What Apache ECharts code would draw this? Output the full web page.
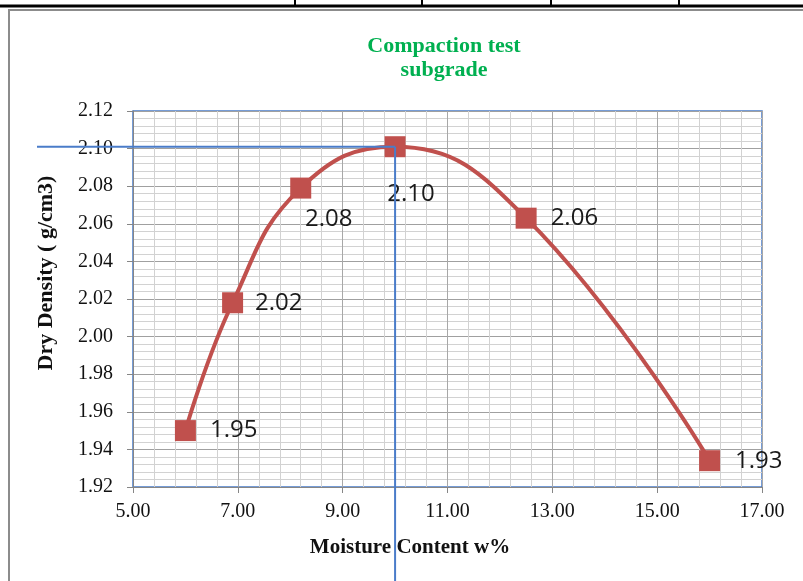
<!DOCTYPE html>
<html><head><meta charset="utf-8">
<script src="https://cdn.jsdelivr.net/npm/echarts@6/dist/echarts.min.js"></script>
<style>html,body{margin:0;padding:0;background:#fff}#c{width:803px;height:581px}</style>
</head><body><div id="c"></div>
<script>
// ---- data ----
const moisture = [6.0, 6.9, 8.2, 10.0, 12.5, 16.0];
const dryDensity = [1.95, 2.018, 2.079, 2.101, 2.063, 1.934];
const titleText = "Compaction test\nsubgrade";
const xName = "Moisture Content w%";
const yName = "Dry Density ( g/cm3)";
const optimumIndex = 3;

// ---- label placement (styling only) ----
const labelStyles = [
  {position: 'right', distance: 14},
  {position: 'right', distance: 12},
  {position: 'inside', offset: [28, 31]},
  {position: 'inside', offset: [16, 47]},
  {position: 'right', distance: 14},
  {position: 'right', distance: 15}
];

const red = '#C0504D';
const blue = '#4A7CC9';
const serif = '"Liberation Serif","Times New Roman",serif';

const chart = echarts.init(document.getElementById('c'), null, {renderer: 'canvas'});
const pts = moisture.map((x, i) => ({
  value: [x, dryDensity[i]],
  label: Object.assign({}, labelStyles[i])
}));

chart.setOption({
  animation: false,
  backgroundColor: '#fff',
  title: {
    text: titleText, left: 439, top: 29, textAlign: 'center',
    textStyle: {fontFamily: serif, fontWeight: 'bold', fontSize: 22, color: '#00B050', lineHeight: 24}
  },
  grid: {left: 133, right: 41, top: 111, bottom: 94, show: true, borderColor: blue, borderWidth: 1.5, backgroundColor: 'transparent'},
  xAxis: {
    type: 'value', min: 5, max: 17, interval: 2,
    axisLine: {show: true, lineStyle: {color: '#868686', width: 1}},
    axisTick: {show: true, length: 6, lineStyle: {color: '#868686'}},
    axisLabel: {fontFamily: serif, fontSize: 20, color: '#111', margin: 15, formatter: v => v.toFixed(2)},
    splitLine: {show: true, lineStyle: {color: '#a8a8a8', width: 1}},
    minorTick: {show: false, splitNumber: 5},
    minorSplitLine: {show: true, lineStyle: {color: '#d2d2d2', width: 1}}
  },
  yAxis: {
    type: 'value', min: 1.92, max: 2.12, interval: 0.02,
    axisLine: {show: true, lineStyle: {color: '#868686', width: 1}},
    axisTick: {show: true, length: 6, lineStyle: {color: '#868686'}},
    axisLabel: {fontFamily: serif, fontSize: 20, color: '#111', margin: 20, formatter: v => v.toFixed(2)},
    splitLine: {show: true, lineStyle: {color: '#a0a0a0', width: 1}},
    minorTick: {show: false, splitNumber: 5},
    minorSplitLine: {show: true, lineStyle: {color: '#d2d2d2', width: 1}}
  },
  series: [{
    type: 'line', data: pts, smooth: 0.45,
    symbol: 'rect', symbolSize: 21,
    itemStyle: {color: red},
    lineStyle: {color: red, width: 4},
    label: {show: true, fontFamily: '"Open Sans",sans-serif', fontSize: 24, color: '#1a1a1a',
      formatter: p => p.value[1].toFixed(2)},
    z: 3
  }]
});

const p = chart.convertToPixel({gridIndex: 0}, [moisture[optimumIndex], dryDensity[optimumIndex]]);
const W = 803, H = 581;
chart.setOption({
  graphic: [
    // page frame
    {type: 'rect', shape: {x: 9, y: 10, width: W + 20, height: H + 20}, style: {fill: null, stroke: '#8c8c8c', lineWidth: 2}, z: 1, silent: true},
    {type: 'line', shape: {x1: 0, y1: 6, x2: W, y2: 6}, style: {stroke: '#000', lineWidth: 3}, z: 1},
    {type: 'line', shape: {x1: 295, y1: 0, x2: 295, y2: 7}, style: {stroke: '#000', lineWidth: 2}, z: 1},
    {type: 'line', shape: {x1: 422, y1: 0, x2: 422, y2: 7}, style: {stroke: '#000', lineWidth: 2}, z: 1},
    {type: 'line', shape: {x1: 551, y1: 0, x2: 551, y2: 7}, style: {stroke: '#000', lineWidth: 2}, z: 1},
    {type: 'line', shape: {x1: 679, y1: 0, x2: 679, y2: 7}, style: {stroke: '#000', lineWidth: 2}, z: 1},
    // axis names
    {type: 'text', x: 410, y: 548, style: {text: xName, font: 'bold 21px ' + serif, fill: '#111', align: 'center', verticalAlign: 'middle'}, z: 10},
    {type: 'text', x: 46, y: 273, rotation: Math.PI / 2, style: {text: yName, font: 'bold 22px ' + serif, fill: '#111', align: 'center', verticalAlign: 'middle'}, z: 10},
    // optimum guide lines
    {type: 'line', shape: {x1: 37, y1: p[1], x2: p[0], y2: p[1]}, style: {stroke: blue, lineWidth: 2}, z: 100},
    {type: 'line', shape: {x1: p[0], y1: p[1], x2: p[0], y2: H}, style: {stroke: blue, lineWidth: 2}, z: 100}
  ]
});
</script></body></html>
